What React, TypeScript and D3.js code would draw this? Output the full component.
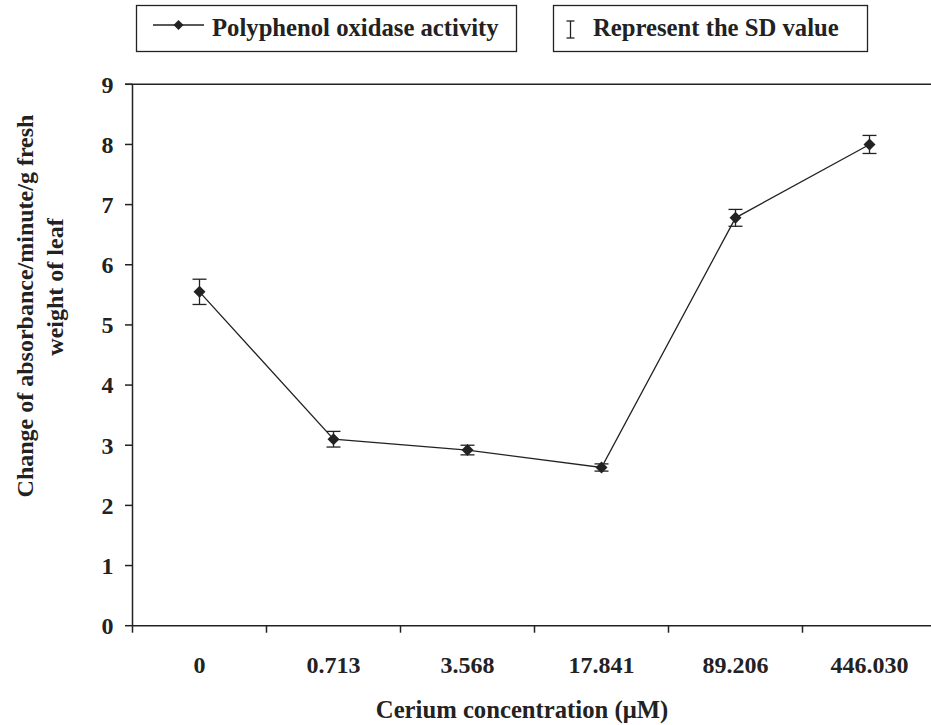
import React from "react";
import * as d3 from "d3";

// concentrations (µM) shown as categories
const categories = ["0", "0.713", "3.568", "17.841", "89.206", "446.030"];
// polyphenol oxidase activity
const activity = [5.55, 3.1, 2.92, 2.63, 6.78, 8.0];
// standard deviation
const sd = [0.21, 0.13, 0.08, 0.06, 0.14, 0.15];
const yTicks = [0, 1, 2, 3, 4, 5, 6, 7, 8, 9];

const W = 931;
const H = 725;
const FONT = "'Liberation Serif', 'Times New Roman', serif";
const INK = "#222";

const Diamond = ({ cx, cy, r }: { cx: number; cy: number; r: number }) => (
    <path d={`M${cx},${cy - r}L${cx + r},${cy}L${cx},${cy + r}L${cx - r},${cy}Z`} fill={INK} />
);

export default function App() {
    const x = d3.scaleBand<string>().domain(categories).range([132.5, 936.5]).padding(0);
    const y = d3.scaleLinear().domain([0, 9]).range([625.7, 84.3]);
    const cx = (c: string) => (x(c) ?? 0) + x.bandwidth() / 2;

    const line = d3
        .line<number>()
        .x((_, i) => cx(categories[i]))
        .y(d => y(d));

    const boundaries = categories.map(c => x(c) ?? 0);

    return (
        <svg
            width={W}
            height={H}
            style={{ position: "absolute", left: 0, top: 0, background: "#fff" }}
            fontFamily={FONT}
            fontWeight="bold"
        >
            {/* legend */}
            <rect x={136.5} y={5.5} width={380} height={46} fill="none" stroke={INK} strokeWidth={1.3} />
            <line x1={153} x2={204} y1={25} y2={25} stroke={INK} strokeWidth={1.3} />
            <Diamond cx={178.5} cy={25} r={5} />
            <text x={212} y={36} fontSize={24.7} fill={INK}>Polyphenol oxidase activity</text>

            <rect x={553.5} y={5.5} width={314} height={46} fill="none" stroke={INK} strokeWidth={1.3} />
            <g stroke={INK} strokeWidth={1.3}>
                <line x1={570.5} x2={570.5} y1={21} y2={38} />
                <line x1={566.5} x2={574.5} y1={21} y2={21} />
                <line x1={566.5} x2={574.5} y1={38} y2={38} />
            </g>
            <text x={593} y={36} fontSize={24.7} fill={INK}>Represent the SD value</text>

            {/* frame: top line + axes */}
            <g stroke={INK} strokeWidth={1.5} fill="none">
                <line x1={125} x2={W} y1={y(9)} y2={y(9)} />
                <line x1={132.5} x2={132.5} y1={y(9)} y2={y(0)} />
                <line x1={132.5} x2={W} y1={y(0)} y2={y(0)} />
                {yTicks.map(t => (
                    <line key={t} x1={125} x2={132.5} y1={y(t)} y2={y(t)} />
                ))}
                {boundaries.map((b, i) => (
                    <line key={i} x1={b} x2={b} y1={y(0)} y2={y(0) + 7} />
                ))}
            </g>

            {yTicks.map(t => (
                <text key={t} x={113.5} y={y(t)} dy="0.35em" fontSize={24} textAnchor="end" fill={INK}>
                    {t}
                </text>
            ))}
            {categories.map(c => (
                <text key={c} x={cx(c)} y={673} fontSize={24} textAnchor="middle" fill={INK}>
                    {c}
                </text>
            ))}

            <text x={522} y={718} fontSize={24.7} textAnchor="middle" fill={INK}>
                Cerium concentration (μM)
            </text>
            <text transform="translate(33,306) rotate(-90)" fontSize={24} textAnchor="middle" fill={INK}>
                Change of absorbance/minute/g fresh
            </text>
            <text transform="translate(63,287) rotate(-90)" fontSize={24} textAnchor="middle" fill={INK}>
                weight of  leaf
            </text>

            {/* series */}
            <path d={line(activity) ?? ""} fill="none" stroke={INK} strokeWidth={1.3} />
            <g stroke={INK} strokeWidth={1.3}>
                {activity.map((v, i) => {
                    const px = cx(categories[i]);
                    return (
                        <g key={i}>
                            <line x1={px} x2={px} y1={y(v + sd[i])} y2={y(v - sd[i])} />
                            <line x1={px - 7} x2={px + 7} y1={y(v + sd[i])} y2={y(v + sd[i])} />
                            <line x1={px - 7} x2={px + 7} y1={y(v - sd[i])} y2={y(v - sd[i])} />
                        </g>
                    );
                })}
            </g>
            {activity.map((v, i) => (
                <Diamond key={i} cx={cx(categories[i])} cy={y(v)} r={6} />
            ))}
        </svg>
    );
}
